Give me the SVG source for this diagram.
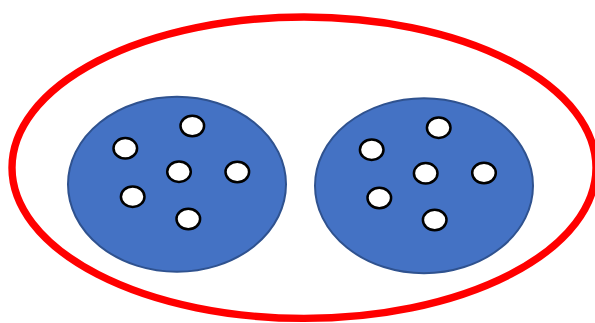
<svg xmlns="http://www.w3.org/2000/svg" width="595" height="323" viewBox="0 0 595 323">
<style>
.outer{fill:none;stroke:#FF0000;stroke-width:7.4}
.cluster{fill:#4472C4;stroke:#2F528F;stroke-width:2}
.dot{fill:#FFFFFF;stroke:#000000;stroke-width:2.5}
</style>
<rect width="595" height="323" fill="#FFFFFF"/>
<g id="outer"><ellipse class="outer" cx="304" cy="167.7" rx="292" ry="150.7"/></g>
<g id="cluster-left">
<ellipse class="cluster" cx="177" cy="184.3" rx="109" ry="87.5"/>
<ellipse class="dot" cx="192.3" cy="126" rx="11.8" ry="10.2"/>
<ellipse class="dot" cx="125.3" cy="148.3" rx="11.8" ry="10.2"/>
<ellipse class="dot" cx="179" cy="171.7" rx="11.8" ry="10.2"/>
<ellipse class="dot" cx="237.3" cy="172" rx="11.8" ry="10.2"/>
<ellipse class="dot" cx="132.7" cy="196.7" rx="11.8" ry="10.2"/>
<ellipse class="dot" cx="188.3" cy="219" rx="11.8" ry="10.2"/>
</g>
<g id="cluster-right">
<ellipse class="cluster" cx="424" cy="185.7" rx="109" ry="87.5"/>
<ellipse class="dot" cx="438.7" cy="127.7" rx="11.8" ry="10.2"/>
<ellipse class="dot" cx="371.7" cy="149.7" rx="11.8" ry="10.2"/>
<ellipse class="dot" cx="425.7" cy="173.3" rx="11.8" ry="10.2"/>
<ellipse class="dot" cx="484" cy="173" rx="11.8" ry="10.2"/>
<ellipse class="dot" cx="379.3" cy="198" rx="11.8" ry="10.2"/>
<ellipse class="dot" cx="434.7" cy="220" rx="11.8" ry="10.2"/>
</g>
<g id="connectors"/>
</svg>
